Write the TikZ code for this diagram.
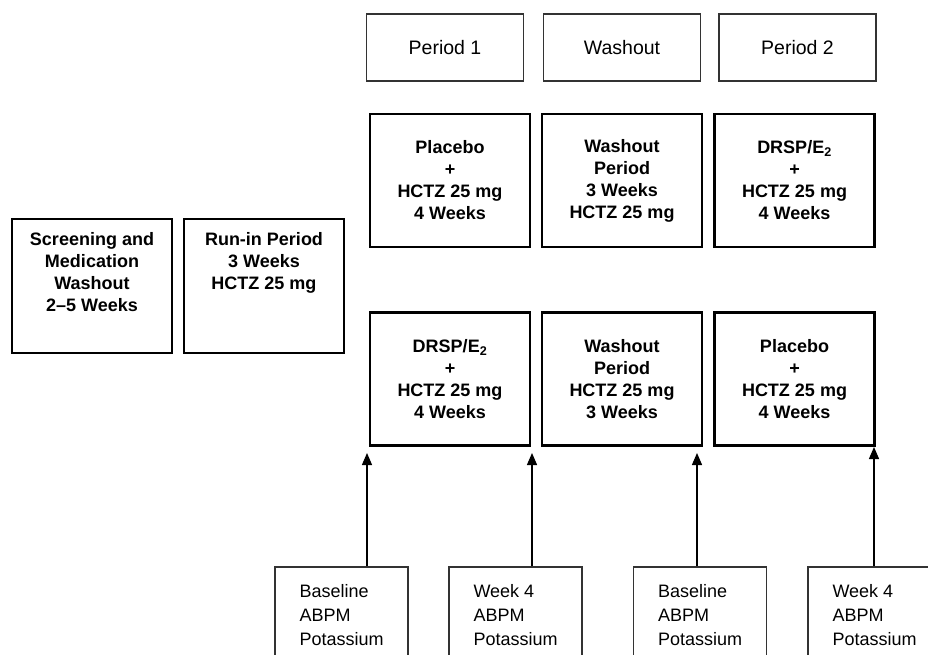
\documentclass[tikz,border=0pt]{standalone}
\usepackage{fontspec}
\setmainfont{Liberation Sans}
\usetikzlibrary{arrows.meta}

\tikzset{
  headbox/.style={draw=black!80, line width=1.3pt, minimum width=157pt, minimum height=67pt,
    font=\fontsize{19.5}{23}\selectfont},
  armbox/.style={draw, line width=2.8pt, minimum width=160pt, minimum height=133pt,
    align=center, font=\bfseries\fontsize{18}{22}\selectfont},
  boldtxt/.style={inner sep=0pt, align=center, font=\bfseries\fontsize{18}{22}\selectfont},
  basebox/.style={draw=black!80, line width=1.3pt, minimum width=133pt, minimum height=120pt},
  basetxt/.style={inner sep=0pt, align=left, font=\fontsize{18}{24}\selectfont},
  arr/.style={line width=1.3pt, -{Triangle[length=12pt,width=10pt]}}
}

\begin{document}
\begin{tikzpicture}[x=1pt,y=-1pt]
\useasboundingbox (0,0) rectangle (928,655);

% headers
\node[headbox] (per1) at (445,47.5) {Period 1};
\node[headbox] (wash) at (622,47.5) {Washout};
\node[headbox] (per2) at (797.5,47.5) {Period 2};

% screening and run-in
\node[armbox, minimum height=134pt] (screen) at (92,286) {};
\node[boldtxt, anchor=north] at ([yshift=-14.5pt]screen.north) {Screening and\\Medication\\Washout\\2--5 Weeks};
\node[armbox, minimum height=134pt] (runin) at (264,286) {};
\node[boldtxt, anchor=north] at ([yshift=-14.5pt]runin.north) {Run-in Period\\3 Weeks\\HCTZ 25 mg};

% sequence 1
\node[armbox] (upA) at (450,180.5) {Placebo\\+\\HCTZ 25 mg\\4 Weeks};
\node[armbox] (upB) at (622,180.5) {Washout\\Period\\3 Weeks\\HCTZ 25 mg};
\node[armbox] (upC) at (794.5,180.5) {DRSP/E\textsubscript{2}\\+\\HCTZ 25 mg\\4 Weeks};

% sequence 2
\node[armbox] (loA) at (450,379) {DRSP/E\textsubscript{2}\\+\\HCTZ 25 mg\\4 Weeks};
\node[armbox] (loB) at (622,379) {Washout\\Period\\HCTZ 25 mg\\3 Weeks};
\node[armbox] (loC) at (794.5,379) {Placebo\\+\\HCTZ 25 mg\\4 Weeks};

% measurements
\foreach \n/\x/\t/\ax/\ay in {1/341.5/Baseline/367/453, 2/515.5/Week 4/532/453,
                              3/700/Baseline/697/453, 4/874.5/Week 4/874/447}
{ \node[basebox] (base\n) at (\x,627) {};
  \node[basetxt, anchor=north west] at ([xshift=25pt,yshift=-17.5pt]base\n.north west) {\t\\ABPM\\Potassium};
  \coordinate (tip\n) at (\ax,\ay);
  \draw[arr] (base\n.north -| tip\n) -- (tip\n);
}
\end{tikzpicture}
\end{document}
